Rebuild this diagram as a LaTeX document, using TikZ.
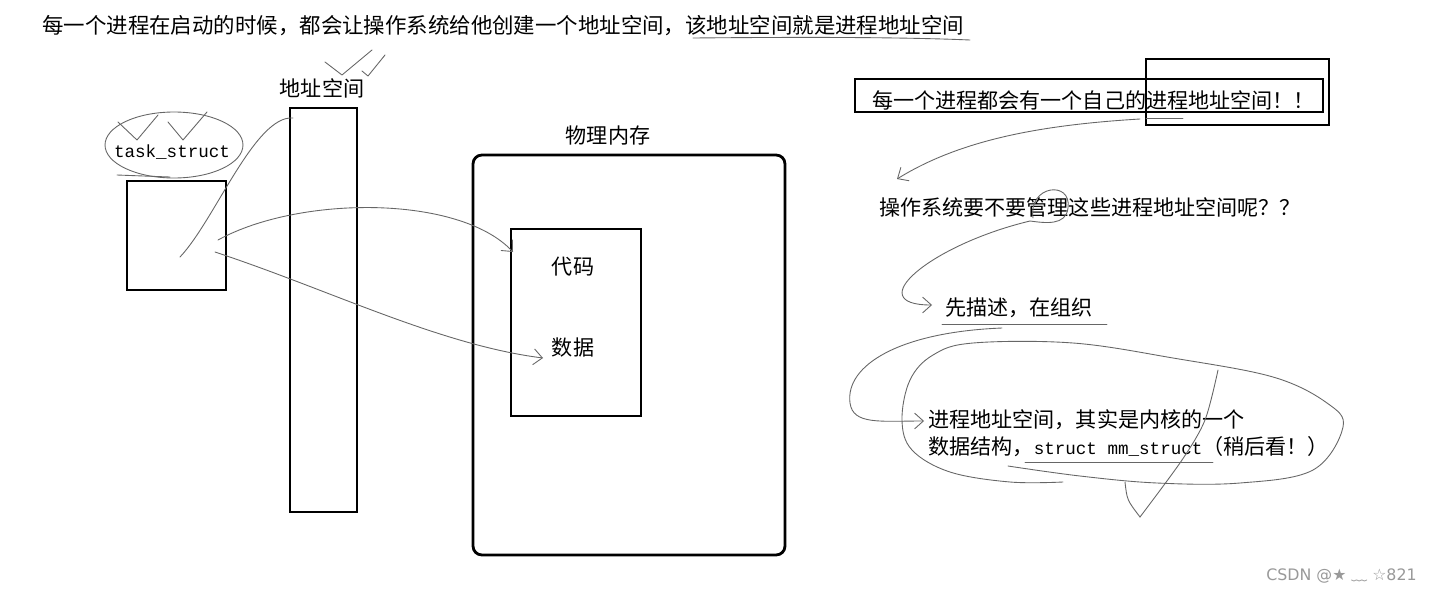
\documentclass[tikz,border=0pt]{standalone}
\usepackage{fontspec}
\setmainfont{Noto Sans CJK SC}
\setmonofont{Liberation Mono}
\newfontfamily\markfont{DejaVu Sans}
\usetikzlibrary{arrows.meta}

\tikzset{
  box/.style={draw, line width=1.6pt, inner sep=0pt},
  txt/.style={inner sep=0pt, font=\fontsize{12}{14}\selectfont},
  mono/.style={inner sep=0pt, font=\ttfamily\fontsize{10}{12}\selectfont},
  ink/.style={draw=black!60, line width=0.5pt, line cap=round, line join=round},
  pen/.style={ink, -{Straight Barb[length=5pt, width=9pt]}},
}

\begin{document}
\begin{tikzpicture}[x=0.02cm, y=-0.02cm]
  \useasboundingbox[fill=white] (0,0) rectangle (1432,592);

  \node[txt, font=\fontsize{12.2}{15}\selectfont, anchor=west] (intro) at (42,26)
    {每一个进程在启动的时候，都会让操作系统给他创建一个地址空间，该地址空间就是进程地址空间};
  \draw[ink] (693,38) .. controls (800,37) and (900,37) .. (970,40);

  % left: task_struct, address space, physical memory
  \node[txt] (asLabel) at (322,88) {地址空间};
  \node[box, minimum width=1.34cm, minimum height=8.08cm] (addr) at (323.5,310) {};
  \node[mono] (tsLabel) at (172,152) {task\_struct};
  \draw[ink] (174,145) ellipse [x radius=1.38cm, y radius=0.66cm];
  \node[box, minimum width=1.98cm, minimum height=2.18cm] (task) at (176.5,235.5) {};
  \node[txt] (pmLabel) at (608,136) {物理内存};
  \node[box, rounded corners=5pt, minimum width=6.24cm, minimum height=8cm] (phys) at (629,355) {};
  \node[box, minimum width=2.6cm, minimum height=3.74cm] (seg) at (576,322.5) {};
  \node[txt] (code) at (573,267) {代码};
  \node[txt] (data) at (573,348) {数据};

  \draw[ink] (325,62) -- (342,75) -- (372,50);
  \draw[ink] (362,71) -- (368,76) -- (385,55);
  \draw[ink] (118,122) -- (137,140) -- (158,115);
  \draw[ink] (168,122) -- (183,140) -- (207,112);
  \draw[ink] (117,175) -- (170,177);

  \coordinate (tsA) at (180,257);
  \coordinate (tsB) at (218,240);
  \coordinate (tsC) at (215,252);
  \coordinate (asTop) at (293,118);
  \coordinate (codeIn) at (513,252);
  \coordinate (dataIn) at (543,358);
  \draw[ink] (tsA) .. controls (215,220) and (255,115) .. (asTop);
  \draw[pen] (tsB) .. controls (300,195) and (460,195) .. (codeIn);
  \draw[pen] (tsC) .. controls (330,290) and (440,345) .. (dataIn);

  % right: notes
  \node[box, minimum width=9.36cm, minimum height=0.66cm] (ownBox) at (1089,95.5) {};
  \node[txt] (own) at (1093.5,100) {每一个进程都会有一个自己的进程地址空间！！};
  \node[box, minimum width=3.66cm, minimum height=1.32cm] (hl) at (1237.5,92) {};
  \draw[ink] (1146,118) -- (1183,118);
  \node[txt] (ask) at (1090,207) {操作系统要不要管理这些进程地址空间呢？？};
  \node[txt] (desc) at (1019,308) {先描述，在组织};
  \draw[ink] (942,324) -- (1107,324);
  \node[txt, anchor=west] (kernA) at (928,420) {进程地址空间，其实是内核的一个};
  \node[txt, anchor=west] (kernB) at (928,447)
    {数据结构，{\ttfamily\fontsize{10}{12}\selectfont struct mm\_struct}（稍后看！）};
  \draw[ink] (1025,462) -- (1213,462);

  \coordinate (hlA) at (1140,119);
  \coordinate (askIn) at (897,179);
  \coordinate (ringA) at (1033,218);
  \coordinate (descIn) at (932,305);
  \coordinate (descA) at (1002,328);
  \coordinate (kernIn) at (924,421);
  \draw[pen] (hlA) .. controls (1040,125) and (960,140) .. (askIn);
  \draw[pen] (ringA) .. controls (1028,185) and (1072,180) .. (1068,208)
    .. controls (1066,226) and (1045,223) .. (1030,221)
    .. controls (930,245) and (860,305) .. (descIn);
  \draw[pen] (descA) .. controls (900,332) and (845,365) .. (850,403)
    .. controls (853,425) and (880,421) .. (kernIn);

  \draw[ink] plot[smooth, tension=0.6] coordinates {(1008,466) (1080,476) (1157,483)
    (1240,483) (1313,470) (1343,427) (1327,403) (1273,377) (1173,358) (1073,343)
    (973,343) (933,355) (910,380) (902,420) (912,450) (950,472) (1010,482) (1063,482)};
  \draw[ink] plot[smooth] coordinates {(1218,370) (1205,420) (1182,460) (1140,517)};
  \draw[ink] (1125,482) .. controls (1127,500) .. (1140,517);

  \node[inner sep=0pt, text=black!40, font=\markfont\fontsize{9}{11}\selectfont, anchor=east]
    (mark) at (1417,576) {CSDN @★ {\rmfamily ﹏} ☆821};
\end{tikzpicture}
\end{document}
